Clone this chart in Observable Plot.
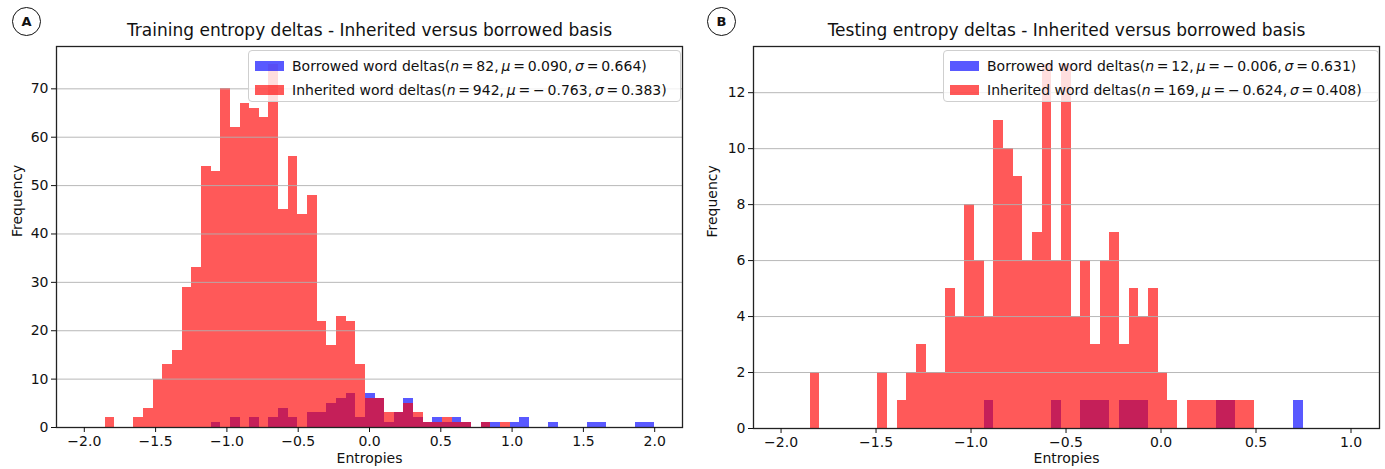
<!DOCTYPE html>
<html>
<head>
<meta charset="utf-8">
<script src="https://cdn.jsdelivr.net/npm/d3@7"></script>
<script src="https://cdn.jsdelivr.net/npm/@observablehq/plot@0.6"></script>
<style>
  html, body { margin: 0; padding: 0; background: #ffffff; }
  #fig { position: relative; width: 1385px; height: 469px; overflow: hidden; font-family: "DejaVu Sans", sans-serif; color: #111; background: #fff; }
  .panel { position: absolute; top: 0; }
  .badge { position: absolute; top: 7px; width: 27px; height: 27px; border: 1.6px solid #111; border-radius: 50%;
           font-weight: bold; font-size: 13px; line-height: 27px; text-align: center; }
  .legend { position: absolute; top: 50px; height: 52px; box-sizing: border-box; background: rgba(255,255,255,0.8);
            border: 1px solid #cfcfcf; border-radius: 4px; font-size: 14px; }
  .row { position: absolute; left: 0; height: 20px; white-space: nowrap; }
  .patch { position: absolute; left: 6px; top: 5px; width: 29px; height: 10px; }
  .lab { position: absolute; left: 43px; top: 0; line-height: 20px; }
  .lab i { font-style: italic; }
</style>
</head>
<body>
<div id="fig"></div>
<script>
// ---------------- data ----------------
// Panel A: training set, shared bins: 59 bins starting at -1.99, width 3.99/59
const trainBinStart = -1.99;
const trainBinWidth = 3.99 / 59;
const trainBorrowedCounts = [
  0, 0, 0, 0, 0, 0, 0, 0, 0, 0,
  0, 0, 0, 1, 0, 2, 0, 2, 0, 2,
  4, 2, 0, 3, 3, 5, 6, 7, 2, 7,
  6, 1, 3, 6, 2, 1, 2, 1, 2, 1,
  0, 1, 1, 0, 1, 2, 0, 0, 1, 0,
  0, 0, 1, 1, 0, 0, 0, 1, 1
];
const trainInheritedCounts = [
  0, 0, 2, 0, 0, 2, 4, 10, 13, 16,
  29, 33, 54, 53, 70, 62, 67, 66, 64, 75,
  45, 56, 44, 48, 22, 17, 23, 22, 13, 6,
  6, 3, 3, 5, 3, 1, 1, 2, 1, 1,
  0, 1, 0, 1, 0, 0, 0, 0, 0, 0,
  0, 0, 0, 0, 0, 0, 0, 0, 0
];
// Panel B: testing set, shared bins: 51 bins starting at -1.847, width 0.0509
const testBinStart = -1.847;
const testBinWidth = 0.0509;
const testBorrowedCounts = [
  0, 0, 0, 0, 0, 0, 0, 0, 0, 0,
  0, 0, 0, 0, 0, 0, 0, 0, 1, 0,
  0, 0, 0, 0, 0, 1, 0, 0, 1, 1,
  1, 0, 1, 1, 1, 0, 0, 0, 0, 0,
  0, 0, 1, 1, 0, 0, 0, 0, 0, 0,
  1
];
const testInheritedCounts = [
  2, 0, 0, 0, 0, 0, 0, 2, 0, 1,
  2, 3, 2, 2, 5, 4, 8, 6, 4, 11,
  10, 9, 6, 7, 13, 6, 13, 4, 6, 3,
  6, 7, 3, 5, 4, 5, 2, 1, 0, 1,
  1, 1, 1, 1, 1, 1, 0, 0, 0, 0,
  0
];
// tick labels
const trainXTicks = [-2.0, -1.5, -1.0, -0.5, 0.0, 0.5, 1.0, 1.5, 2.0];
const trainYTicks = [0, 10, 20, 30, 40, 50, 60, 70];
const testXTicks = [-2.0, -1.5, -1.0, -0.5, 0.0, 0.5, 1.0];
const testYTicks = [0, 2, 4, 6, 8, 10, 12];
// text
const panelLetters = ["A", "B"];
const panelTitles = [
  "Training entropy deltas - Inherited versus borrowed basis",
  "Testing entropy deltas - Inherited versus borrowed basis"
];
const seriesNames = ["Borrowed word deltas", "Inherited word deltas"];
const trainStats = [["82", "0.090", "0.664"], ["942", "\u2212\u20090.763", "0.383"]];
const testStats = [["12", "\u2212\u20090.006", "0.631"], ["169", "\u2212\u20090.624", "0.408"]];
const xLabel = "Entropies";
const yLabel = "Frequency";
const seriesColors = ["blue", "red"];
const barOpacity = 0.65;

// ---------------- drawing ----------------
function toRows(counts, start, width) {
  const rows = [];
  counts.forEach((c, i) => {
    if (c > 0) rows.push({x1: start + i * width, x2: start + (i + 1) * width, count: c});
  });
  return rows;
}

function makePanel(cfg) {
  const borrowed = toRows(cfg.borrowed, cfg.binStart, cfg.binWidth);
  const inherited = toRows(cfg.inherited, cfg.binStart, cfg.binWidth);
  return Plot.plot({
    width: cfg.width,
    height: 469,
    marginTop: 46,
    marginBottom: cfg.marginBottom,
    marginLeft: cfg.marginLeft,
    marginRight: cfg.marginRight,
    x: {domain: cfg.xDomain},
    y: {domain: cfg.yDomain},
    style: {fontFamily: "DejaVu Sans, sans-serif", fontSize: "14px", color: "#111", background: "transparent"},
    marks: [
      Plot.rectY(borrowed, {x1: "x1", x2: "x2", y: "count", fill: seriesColors[0], fillOpacity: barOpacity, inset: 0, shapeRendering: "crispEdges"}),
      Plot.rectY(inherited, {x1: "x1", x2: "x2", y: "count", fill: seriesColors[1], fillOpacity: barOpacity, inset: 0, shapeRendering: "crispEdges"}),
      Plot.gridY(cfg.yTicks, {stroke: "#b0b0b0", strokeOpacity: 0.9, strokeWidth: 1}),
      Plot.frame({stroke: "#222", strokeWidth: 1.3}),
      Plot.axisX(cfg.xTicks, {tickFormat: d3.format(".1f"), tickSize: 5, tickPadding: 4, fontSize: 14, label: null}),
      Plot.axisY(cfg.yTicks, {tickSize: 5, tickPadding: 3, fontSize: 14, label: null}),
      Plot.text([cfg.title], {text: d => d, frameAnchor: "top", dy: -16, fontSize: 17, lineAnchor: "middle"}),
      Plot.text([yLabel], {text: d => d, frameAnchor: "left", dx: cfg.yLabelDx, rotate: -90, fontSize: 14, lineAnchor: "middle"}),
      Plot.text([xLabel], {text: d => d, frameAnchor: "bottom", dy: cfg.xLabelDy, fontSize: 14, lineAnchor: "middle"})
    ]
  });
}

const fig = document.getElementById("fig");

function addPanel(svg, left) {
  const wrap = document.createElement("div");
  wrap.className = "panel";
  wrap.style.left = left + "px";
  wrap.appendChild(svg);
  fig.appendChild(wrap);
}

addPanel(makePanel({
  width: 692, marginLeft: 56, marginRight: 10, marginBottom: 42,
  xDomain: [-2.195, 2.195], yDomain: [0, 78.75],
  binStart: trainBinStart, binWidth: trainBinWidth,
  borrowed: trainBorrowedCounts, inherited: trainInheritedCounts,
  xTicks: trainXTicks, yTicks: trainYTicks, title: panelTitles[0], yLabelDx: -39, xLabelDy: 31
}), 0);

addPanel(makePanel({
  width: 693, marginLeft: 61, marginRight: 6, marginBottom: 41,
  xDomain: [-2.145, 1.15], yDomain: [0, 13.65],
  binStart: testBinStart, binWidth: testBinWidth,
  borrowed: testBorrowedCounts, inherited: testInheritedCounts,
  xTicks: testXTicks, yTicks: testYTicks, title: panelTitles[1], yLabelDx: -41, xLabelDy: 30
}), 692);

function addBadge(letter, left) {
  const b = document.createElement("div");
  b.className = "badge";
  b.style.left = left + "px";
  b.textContent = letter;
  fig.appendChild(b);
}
addBadge(panelLetters[0], 12);
addBadge(panelLetters[1], 707);

function addLegend(left, width, stats) {
  const lg = document.createElement("div");
  lg.className = "legend";
  lg.style.left = left + "px";
  lg.style.width = width + "px";
  stats.forEach((s, i) => {
    const row = document.createElement("div");
    row.className = "row";
    row.style.top = (5 + i * 24) + "px";
    const p = document.createElement("div");
    p.className = "patch";
    p.style.background = seriesColors[i];
    p.style.opacity = barOpacity;
    const t = document.createElement("div");
    t.className = "lab";
    t.innerHTML = seriesNames[i] + "(<i>n</i>\u2009=\u2009" + s[0] + ",\u2009<i>\u03bc</i>\u2009=\u2009" + s[1] +
                  ",\u2009<i>\u03c3</i>\u2009=\u2009" + s[2] + ")";
    row.appendChild(p);
    row.appendChild(t);
    lg.appendChild(row);
  });
  fig.appendChild(lg);
}
addLegend(248, 433, trainStats);
addLegend(943, 436, testStats);
</script>
</body>
</html>
